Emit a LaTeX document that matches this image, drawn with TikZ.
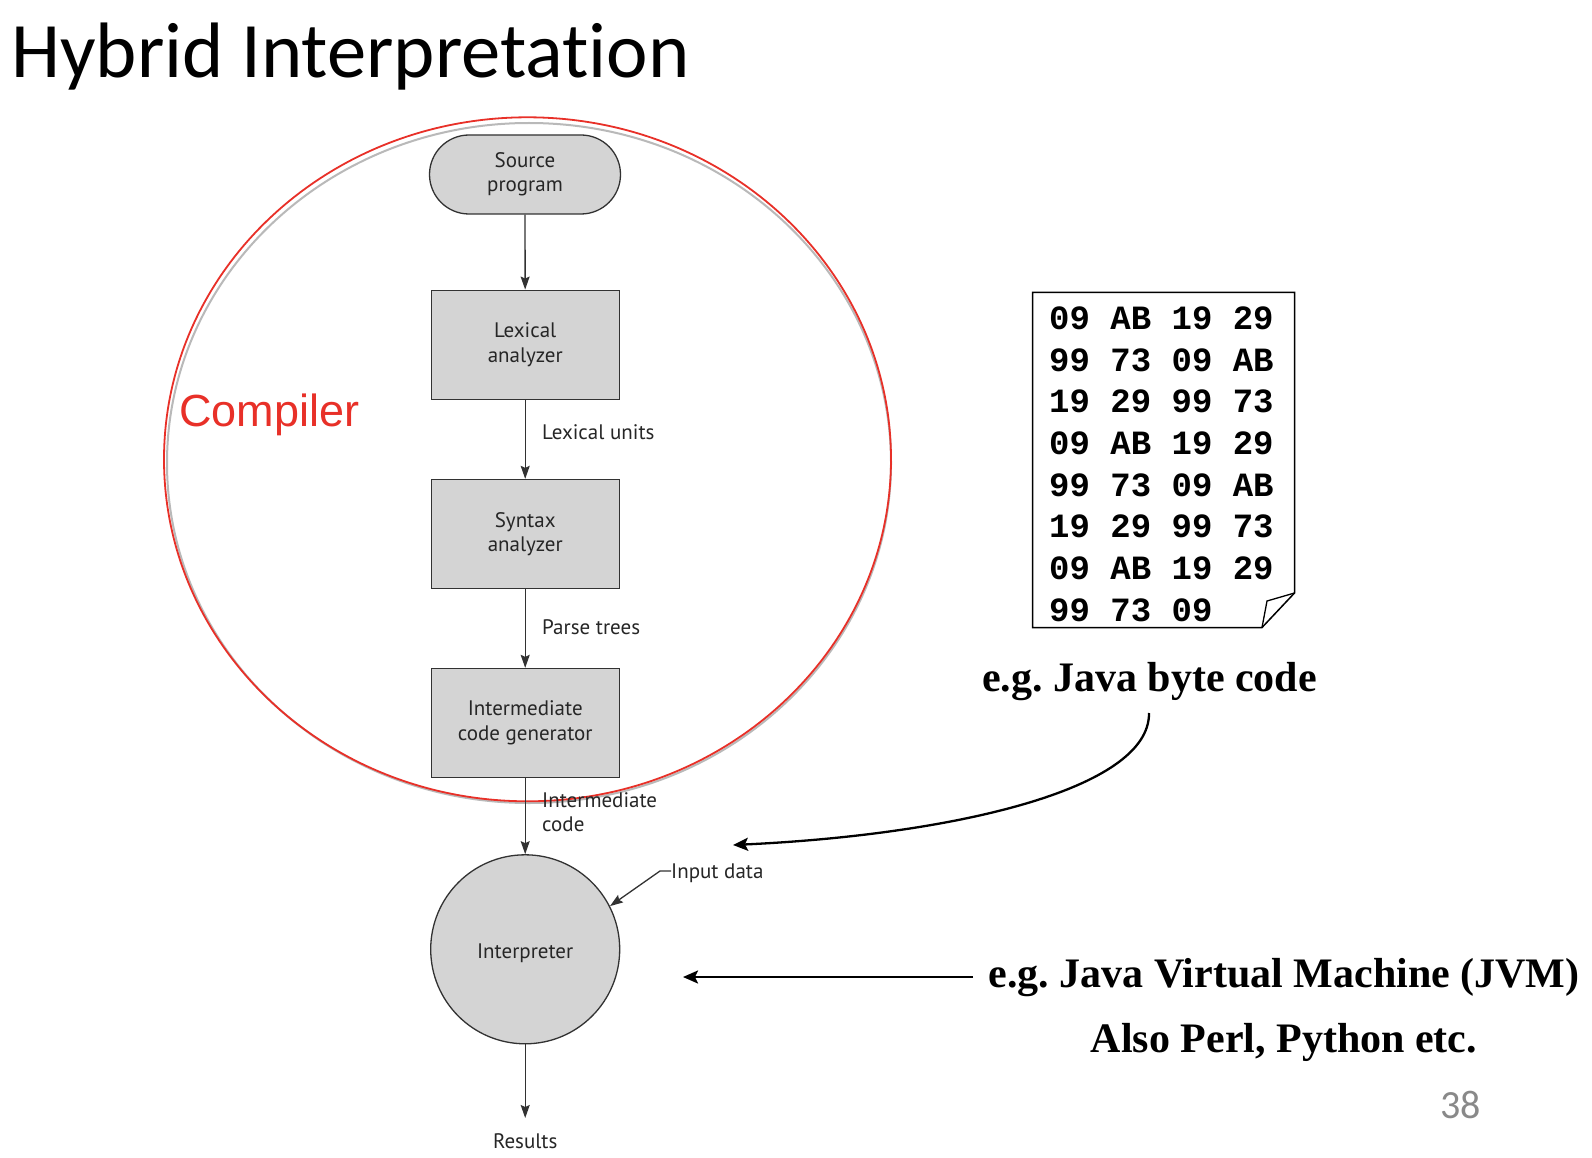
\documentclass[tikz,border=0pt]{standalone}
\usepackage{fontspec}
\setmainfont{Liberation Serif}
\newfontfamily\diagfont{PT Sans}
\newfontfamily\titlefont[Ligatures=NoCommon]{Carlito}
\newfontfamily\redfont{Liberation Sans}
\newfontfamily\codefont{Liberation Mono}
\usetikzlibrary{arrows.meta,shapes.misc}
\frenchspacing

\definecolor{boxfill}{RGB}{212,212,212}
\definecolor{boxline}{RGB}{50,50,50}
\definecolor{compred}{RGB}{232,48,40}
\definecolor{shadowgray}{RGB}{185,185,185}
\definecolor{pagegray}{RGB}{137,137,137}

\tikzset{
  x=1pt, y=-1pt,
  diagtext/.style={font=\diagfont\fontsize{21}{24.5}\selectfont, text=black!85},
  stagebox/.style={diagtext, draw=boxline, fill=boxfill, line width=1.3pt,
    minimum width=188pt, minimum height=109pt, align=center, inner sep=0pt},
  termbox/.style={diagtext, rounded rectangle, draw=boxline, fill=boxfill, line width=1.3pt,
    minimum width=191pt, minimum height=79pt, align=center, inner sep=0pt},
  procbox/.style={diagtext, circle, draw=boxline, fill=boxfill, line width=1.3pt,
    minimum size=189pt, inner sep=0pt},
  flow/.style={draw=boxline, line width=1.3pt, -{Stealth[length=13pt,width=9pt,inset=2pt]}},
  bigarrow/.style={draw=black, line width=2.3pt, -{Stealth[length=15pt,width=13pt,inset=3pt]}},
  flowlabel/.style={diagtext, anchor=base west, inner sep=0pt},
  bytecode/.style={font=\codefont\bfseries\fontsize{34}{41.7}\selectfont, anchor=base west, inner sep=0pt},
  note/.style={font=\bfseries\fontsize{42}{50}\selectfont, inner sep=0pt},
}

\begin{document}
\begin{tikzpicture}
\useasboundingbox[fill=white] (0,0) rectangle (1592,1158);

% title
\node[anchor=base west, inner sep=0pt, font=\titlefont\fontsize{78.6}{90}\selectfont] (title) at (11,78) {Hybrid Interpretation};

% compiler outline with its soft shadow
\draw[shadowgray, line width=2pt] (529,463) ellipse [x radius=362pt, y radius=340pt];
\draw[compred, line width=1.8pt] (527.5,459.3) ellipse [x radius=363.5pt, y radius=342pt];
\node[anchor=base west, inner sep=0pt, text=compred, font=\redfont\fontsize{45}{54}\selectfont] (comp) at (179,426) {Compiler};

% compilation pipeline
\node[termbox]  (src)    at (525,174.5) {Source\\program};
\node[stagebox] (lex)    at (525.2,344.7) {Lexical\\analyzer};
\node[stagebox] (syn)    at (525.2,534) {Syntax\\analyzer};
\node[stagebox] (gen)    at (525.2,723) {Intermediate\\code generator};
\node[procbox]  (interp) at (525.2,949.3) {};
\node[diagtext, anchor=base, inner sep=0pt] (interpname) at (525.2,958.5) {Interpreter};
\node[diagtext, anchor=base, inner sep=0pt] (res) at (525.2,1148) {Results};

\draw[flow] (src) -- (lex);
\draw[flow] (lex) -- (syn);
\draw[flow] (syn) -- (gen);
\draw[flow] (gen) -- (interp);
\draw[flow] (interp) -- (res.north |- 0,1118);

\node[flowlabel] (lu) at (542,439) {Lexical units};
\node[flowlabel] (pt) at (542,634) {Parse trees};
\node[flowlabel, align=left] (ic) at (542,831.5) {Intermediate\\code};
\node[flowlabel] (inp) at (671,878.5) {Input data};
\draw[flow] (inp.west |- 0,871) -- ++(-11,0) -- (interp.27);

% byte code sheet with folded corner
\draw[line width=1.5pt, fill=white] (1032.6,292.4) -- (1294.5,292.4) -- (1294.5,593)
  -- (1262,627.5) -- (1032.6,627.5) -- cycle;
\draw[line width=1.3pt] (1262,627.5) -- (1267,601) -- (1294.5,593);
\node[bytecode] (bc1) at (1049,329.3) {09 AB 19 29};
\node[bytecode] (bc2) at (1049,371.0) {99 73 09 AB};
\node[bytecode] (bc3) at (1049,412.7) {19 29 99 73};
\node[bytecode] (bc4) at (1049,454.4) {09 AB 19 29};
\node[bytecode] (bc5) at (1049,496.1) {99 73 09 AB};
\node[bytecode] (bc6) at (1049,537.8) {19 29 99 73};
\node[bytecode] (bc7) at (1049,579.5) {09 AB 19 29};
\node[bytecode] (bc8) at (1049,621.2) {99 73 09};

% annotations
\node[note, anchor=base] (jbc) at (1149.5,691) {e.g. Java byte code};
\coordinate (jbcfrom) at (1149,713);
\coordinate (jbcto) at (733,845);
\draw[bigarrow] (jbcfrom) .. controls (1150,790) and (950,835) .. (jbcto);

\node[note, anchor=base] (jvm) at (1284,987) {e.g. Java Virtual Machine (JVM)};
\node[note, anchor=base] (also) at (1284,1052) {Also Perl, Python etc.};
\coordinate (jvmfrom) at (973,977);
\coordinate (jvmto) at (683,977);
\draw[bigarrow] (jvmfrom) -- (jvmto);

% slide number
\node[anchor=base east, inner sep=0pt, text=pagegray, font=\titlefont\fontsize{40}{48}\selectfont] (num) at (1481,1118) {38};
\end{tikzpicture}
\end{document}
